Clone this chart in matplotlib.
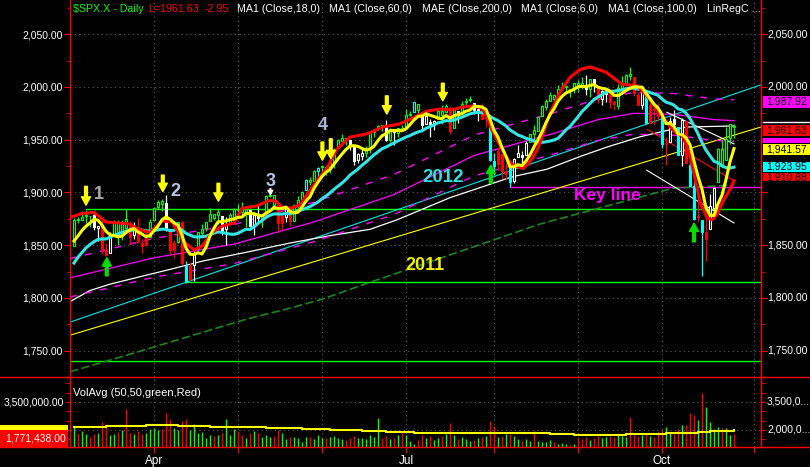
import numpy as np
import pandas as pd
import matplotlib
matplotlib.use('Agg')
import matplotlib.pyplot as plt
from matplotlib import font_manager
from matplotlib.patches import Rectangle
from matplotlib.lines import Line2D
import matplotlib.transforms as mtransforms

# ---------------- data ($SPX.X daily, 4 Mar 2014 - 27 Oct 2014) ----------------
prior_closes = [1773.43, 1797.02, 1799.84, 1819.75, 1819.26, 1829.83, 1838.63, 1840.76, 1828.75,
                1839.78, 1836.25, 1847.61, 1845.12, 1845.16, 1854.29, 1859.45, 1845.73]

opens = [1849.2,1874.1,1874.2,1878.5,1877.9,1878.3,1866.2,1869.1,1845.1,1842.8,
 1858.9,1872.3,1860.1,1874.5,1867.7,1859.5,1867.1,1852.1,1850.1,1858.0,
 1873.9,1886.6,1891.4,1890.3,1863.9,1845.5,1852.6,1872.3,1830.7,1818.2,
 1831.5,1846.0,1861.7,1865.8,1872.6,1879.3,1881.0,1877.7,1865.0,1870.8,
 1877.1,1884.4,1885.3,1879.5,1883.7,1868.5,1877.4,1875.3,1880.0,1896.8,
 1897.1,1888.2,1871.2,1876.7,1884.9,1873.3,1888.2,1893.3,1902.0,1911.8,
 1910.6,1920.3,1923.9,1923.1,1923.1,1928.5,1942.4,1948.9,1950.3,1949.4,
 1943.4,1930.8,1934.8,1937.2,1942.7,1957.5,1960.5,1962.9,1961.9,1949.3,
 1959.9,1956.6,1960.8,1962.3,1973.1,1975.9,1984.2,1976.4,1965.1,1966.7,
 1965.8,1969.9,1977.4,1976.4,1979.8,1961.5,1976.9,1975.7,1985.3,1988.1,
 1984.6,1978.3,1980.0,1973.2,1965.1,1929.8,1926.6,1936.3,1917.3,1923.0,
 1910.4,1933.4,1935.7,1935.6,1947.4,1958.9,1958.4,1972.7,1980.5,1986.8,
 1992.6,1991.7,1998.6,2000.5,1997.4,1998.5,2004.1,2003.6,2001.7,1998.0,
 2007.2,2000.7,1988.4,1992.9,1996.7,1986.0,1981.9,1999.3,2003.1,2012.7,
 2009.1,1992.8,1983.3,1997.3,1966.2,1978.9,1978.2,1971.4,1945.8,1948.1,
 1970.0,1962.4,1935.6,1967.7,1925.6,1905.6,1877.1,1874.2,1855.9,1864.9,
 1885.3,1909.4,1941.3,1931.0,1951.6,1962.7]

highs = [1876.2,1876.5,1881.9,1883.6,1877.9,1882.4,1868.4,1874.4,1852.4,1862.3,
 1873.8,1874.1,1873.5,1883.9,1873.3,1871.9,1875.9,1855.6,1866.6,1875.2,
 1885.8,1893.2,1893.8,1897.3,1864.0,1854.9,1872.4,1872.5,1835.1,1834.2,
 1844.0,1862.6,1869.6,1871.9,1884.9,1879.8,1884.1,1877.7,1877.0,1880.0,
 1885.2,1888.6,1891.3,1885.5,1883.7,1878.8,1889.1,1878.6,1897.1,1902.2,
 1897.1,1888.2,1878.3,1886.0,1884.9,1888.8,1896.3,1901.3,1912.3,1914.5,
 1921.0,1924.0,1925.9,1925.1,1928.6,1941.7,1950.3,1955.6,1950.9,1949.4,
 1943.4,1937.3,1941.2,1943.7,1957.7,1959.9,1963.9,1963.7,1968.2,1960.8,
 1959.9,1961.5,1964.2,1978.6,1976.7,1985.6,1984.2,1976.4,1974.2,1969.8,
 1968.7,1979.9,1982.5,1983.9,1981.8,1979.9,1976.9,1986.2,1989.2,1991.4,
 1984.6,1981.5,1984.9,1978.9,1965.1,1937.4,1942.9,1936.3,1927.9,1928.9,
 1932.4,1944.9,1939.7,1948.4,1955.2,1964.0,1971.9,1982.6,1988.6,1994.8,
 1993.5,2001.9,2005.0,2002.1,1998.5,2003.4,2006.1,2009.3,2011.2,2007.8,
 2007.2,2001.0,1996.7,1997.7,1996.7,1987.2,2002.3,2010.7,2012.3,2019.3,
 2009.1,1995.4,1999.8,1997.3,1986.4,1981.3,1985.2,1971.4,1952.3,1971.2,
 1977.8,1962.4,1970.4,1967.7,1936.0,1912.1,1898.7,1874.2,1876.0,1898.2,
 1905.0,1942.5,1949.3,1961.9,1965.3,1964.6]

lows = [1849.2,1871.1,1874.2,1870.6,1867.0,1863.9,1854.4,1841.9,1839.6,1842.8,
 1858.9,1850.4,1854.6,1863.5,1849.7,1855.9,1852.4,1842.1,1850.1,1858.0,
 1873.9,1883.8,1882.6,1863.3,1841.5,1837.5,1852.4,1830.9,1814.4,1815.8,
 1816.3,1846.0,1856.7,1863.2,1872.6,1873.9,1870.3,1859.7,1850.6,1870.8,
 1872.7,1878.0,1878.5,1866.8,1867.7,1859.8,1870.1,1867.0,1880.0,1896.1,
 1885.8,1862.4,1864.8,1872.4,1868.1,1873.3,1885.4,1893.3,1902.0,1907.3,
 1909.8,1914.5,1915.9,1916.7,1918.6,1922.9,1942.4,1947.2,1944.6,1940.1,
 1925.8,1927.7,1930.9,1933.6,1937.4,1952.3,1959.2,1958.2,1948.3,1947.5,
 1944.7,1952.2,1958.2,1962.3,1972.6,1975.9,1974.9,1959.5,1965.1,1952.9,
 1959.6,1969.9,1965.3,1975.7,1955.6,1960.8,1965.8,1975.7,1982.4,1985.8,
 1974.4,1967.3,1969.9,1962.4,1930.0,1916.4,1921.2,1913.8,1911.5,1904.8,
 1909.0,1933.4,1928.3,1935.6,1947.4,1941.5,1958.4,1972.7,1977.7,1986.8,
 1984.8,1991.7,1998.6,1996.2,1990.5,1994.6,1994.9,1998.1,1992.4,1990.1,
 1995.6,1984.6,1982.9,1985.9,1980.3,1978.5,1979.1,1993.3,2003.1,2006.6,
 1991.0,1982.6,1978.6,1965.1,1966.2,1964.0,1968.0,1941.7,1926.0,1948.1,
 1958.4,1935.1,1925.3,1927.6,1906.1,1874.1,1871.8,1820.7,1835.0,1864.9,
 1882.3,1909.4,1926.8,1931.0,1946.3,1951.4]

closes = [1873.91,1873.81,1877.03,1878.04,1877.17,1867.63,1868.20,1846.34,1841.13,1858.83,
 1872.25,1860.77,1872.01,1866.52,1857.44,1865.62,1852.56,1849.04,1857.62,1872.34,
 1885.52,1890.90,1888.77,1865.09,1845.04,1851.96,1872.18,1833.08,1815.69,1830.61,
 1842.98,1862.31,1864.85,1871.89,1879.55,1875.39,1878.61,1863.40,1869.43,1878.33,
 1883.95,1883.68,1881.14,1884.66,1867.72,1878.21,1875.63,1878.48,1896.65,1897.45,
 1888.53,1870.85,1877.86,1885.08,1872.83,1888.03,1892.49,1900.53,1911.91,1909.78,
 1920.03,1923.57,1924.97,1924.24,1927.88,1940.46,1949.44,1951.27,1950.79,1943.89,
 1930.11,1936.16,1937.78,1941.99,1956.98,1959.48,1962.87,1962.61,1949.98,1959.53,
 1957.22,1960.96,1960.23,1973.32,1974.62,1985.44,1977.65,1963.71,1972.83,1964.68,
 1967.57,1977.10,1973.28,1981.57,1958.12,1978.22,1973.63,1983.53,1987.01,1987.98,
 1978.34,1978.91,1969.95,1970.07,1930.67,1925.15,1938.99,1920.21,1920.24,1909.57,
 1931.59,1936.92,1933.75,1946.72,1955.18,1955.06,1971.74,1981.60,1986.51,1992.37,
 1988.40,1997.92,2000.02,2000.12,1996.74,2003.37,2002.28,2000.72,1997.65,2007.71,
 2001.54,1988.44,1995.69,1997.45,1985.54,1984.13,1998.98,2001.57,2011.36,2010.40,
 1994.29,1982.77,1998.30,1965.99,1982.85,1977.80,1972.29,1946.16,1946.17,1967.90,
 1964.82,1935.10,1968.89,1928.21,1906.13,1874.74,1877.70,1862.49,1862.76,1886.76,
 1904.01,1941.28,1927.11,1950.82,1964.58,1961.63]

# volume in millions
volume_m = [2.15,1.85,1.95,1.80,1.60,1.80,1.85,2.45,2.20,1.75,1.80,1.90,2.00,3.10,1.85,1.80,1.95,1.80,1.85,2.05,
 2.10,2.00,2.05,2.90,2.60,2.10,2.00,2.50,2.60,2.00,2.30,1.85,1.90,1.55,1.75,1.70,1.75,1.85,2.60,1.75,2.05,
 1.95,1.75,1.55,1.85,1.95,1.85,1.60,1.75,1.65,1.70,2.00,1.85,1.50,1.65,1.60,1.55,1.35,1.65,1.60,1.50,1.75,
 1.55,1.55,1.60,1.70,1.55,1.50,1.45,1.55,1.70,1.55,1.55,1.50,1.75,1.65,2.65,1.55,1.70,1.50,1.55,1.75,1.85,
 1.75,1.40,1.25,1.45,1.75,1.55,1.70,1.45,1.55,1.70,1.80,2.35,1.75,1.50,1.60,1.50,1.40,1.45,1.55,1.65,1.70,2.50,
 2.20,1.65,1.70,1.80,1.80,1.70,1.50,1.40,1.50,1.40,1.95,1.40,1.35,1.35,1.45,1.35,1.25,1.30,1.25,1.20,1.25,
 1.55,1.50,1.60,1.45,1.55,1.70,1.55,1.60,1.70,1.60,1.75,1.70,1.60,2.70,1.75,1.70,1.75,1.85,1.70,1.65,1.90,
 2.00,2.15,1.85,1.80,2.05,2.25,2.25,2.90,2.80,2.55,4.00,3.25,2.45,2.05,2.15,2.10,2.10,1.75,1.77]

vol_avg_x = [0, 4, 8, 18, 26, 34, 48, 57, 64, 72, 78, 85, 100, 119, 125, 138, 148, 156, 159, 165]
vol_avg_m = [2.14, 2.18, 2.22, 2.27, 2.24, 2.17, 2.12, 2.05, 1.98, 1.92, 1.87, 1.83, 1.82, 1.80, 1.75,
             1.78, 1.83, 1.88, 1.94, 1.98]

month_ticks = [20, 41, 62, 83, 105, 126, 147, 170]
month_labels = ['Apr', '', '', 'Jul', '', '', 'Oct', '']

# red thick indicator line
red_x = [-1, 0, 2, 5, 8, 11, 14, 16, 19, 22, 24.5, 27.5, 30, 32, 34.5, 37, 40, 42, 45.5, 49, 50.5, 52, 54,
         56.5, 59, 61.5, 63.25, 65.75, 69, 73.25, 77.25, 81.5, 85.75, 88.25, 91.5, 94.75, 97.25, 99.75,
         102, 103.25, 104.75, 106.5, 108.25, 109.75, 112.25, 114, 115.75, 117.25, 119, 121.5, 124,
         126.5, 129, 133, 137, 140.75, 143.25, 145.25, 147.25, 149.75, 152.25, 154, 155.25, 156.5,
         158.25, 159.5, 160.75, 162.25, 164, 165]
red_v = [1876, 1877.5, 1880, 1881, 1872, 1871, 1870, 1865, 1862, 1873, 1872, 1853, 1845.5, 1849, 1862,
         1868, 1871, 1885, 1887, 1892.5, 1891.5, 1886, 1885, 1888, 1902, 1915, 1923, 1941, 1952.5,
         1955.5, 1962, 1965, 1972.5, 1977, 1979, 1978.5, 1981, 1982, 1980, 1971.5, 1957, 1944.5, 1932,
         1926, 1922.5, 1929, 1940, 1955, 1975, 1995, 2009, 2016.5, 2019, 2014, 2002.5, 2001, 1991.5,
         1981, 1971.5, 1958.7, 1952.7, 1935, 1913, 1891.5, 1876, 1874, 1879, 1891.5, 1903, 1911]

ma60_x = [-1, 20, 40, 60, 80, 100, 120, 131, 140, 150, 160, 165]
ma60_v = [1819, 1838, 1851, 1872, 1898, 1935, 1956, 1969, 1975, 1974, 1969, 1968]

ma100_x = [-1, 4, 9, 14, 19, 24, 32.25, 42.25, 54, 64, 74, 80.75, 94, 109.75, 118.25, 126.5, 133.25,
           141.5, 148.25, 153.25, 165]
ma100_v = [1796.5, 1807, 1813, 1817.7, 1822.4, 1827, 1835, 1842.6, 1852, 1859, 1865, 1874, 1895, 1915,
           1922, 1934, 1943, 1952.7, 1958.7, 1962, 1963]

ma200_x = [-1, 9, 24, 34, 43.25, 53.25, 62.25, 71.5, 116.5, 149.75, 165]
ma200_v = [1730, 1741, 1758, 1769.5, 1780, 1789.5, 1799, 1811.5, 1870, 1904, 1907]

trend_2011 = ([-1, 171.75], [1764.6, 1962.0])
trend_2012 = ([-1, 171.75], [1777.0, 2002.0])

linreg_mid = ([143.2, 165], [1960, 1911])
linreg_up = ([148.2, 165], [1976, 1946])
linreg_low = ([143.2, 165], [1921, 1871])

levels_green = [(1884, 3.0), (1815, 27.75), (1740, -1.0)]   # (price, start bar)
key_level = (1905, 109.0)

cyan_down = [28, 104, 105, 109, 143, 147, 151, 154, 155, 157]
cyan_up = [58, 61, 85]

yellow_arrows = [(3.0, 1905.7, 1887.9), (22.2, 1916.4, 1900.8), (36.1, 1908.6, 1891.6),
                 (62.1, 1947.7, 1930.5), (64.2, 1950.8, 1932.0), (78.2, 1991.5, 1974.3),
                 (92.2, 2003.5, 1986.8)]           # (bar, tail, tip)
green_arrows = [(8.2, 1820.9, 1838.1), (104.2, 1908.6, 1925.8), (155.0, 1853.1, 1870.9)]
white_arrows = [(49.1, 1903.6, 1898.0)]
wave_labels = [('1', 6.3, 1897.6, '#a9a9a9'), ('2', 25.25, 1901.3, '#b4c8e4'),
               ('3', 49.2, 1910.2, '#b4c8e4'), ('4', 62.2, 1963.3, '#a8b8d8')]

# right-hand value boxes: (text, shown centre price, colour, box height px)
right_boxes = [
    ('1,987.92', 1985.9, '#ff00ff', 12),
    ('', 1948.8, '#ff00ff', 5),
    ('1,961.63', 1959.0, '#ff0000', 11),
    ('1,941.57', 1940.7, '#ffff00', 11),
    ('1,923.95', 1924.3, '#00ffff', 10.5),
    ('1,910.88', 1914.6, '#ff0000', 8.5),
]

# ---------------- fonts ----------------
names = {f.name for f in font_manager.fontManager.ttflist}
REG = 'Liberation Sans' if 'Liberation Sans' in names else 'DejaVu Sans'
NARROW = 'Liberation Sans Narrow' if 'Liberation Sans Narrow' in names else REG
nsize = 8.5 if NARROW != REG else 7.5
plt.rcParams['font.family'] = [REG, 'DejaVu Sans']

# ---------------- figure ----------------
W, H = 810, 467
PX = 1.064  # pixels per index point
fig = plt.figure(figsize=(W / 100, H / 100), dpi=100, facecolor='black')
ax = fig.add_axes([70 / W, (H - 377) / H, 691 / W, 377 / H], facecolor='black')
axv = fig.add_axes([70 / W, (H - 447) / H, 691 / W, 70 / H], facecolor='black')

XL = (-1, 171.75)
for a in (ax, axv):
    a.set_xlim(*XL)
    for s in ('top', 'bottom'):
        a.spines[s].set_visible(False)
    for s in ('left', 'right'):
        a.spines[s].set_color('#ff0000')
        a.spines[s].set_linewidth(1.0)
    a.set_xticks(month_ticks)
    a.xaxis.grid(True, color='#5c5c5c', linestyle=(0, (1, 3)), lw=0.8)

ax.set_ylim(1728.1, 2082.4)
ax.set_yticks(range(1750, 2051, 50))
ax.set_yticks(range(1725, 2076, 25), minor=True)
ax.yaxis.grid(True, color='#5c5c5c', linestyle=(0, (1, 3)), lw=0.8)
ax.set_yticklabels([f'{v:,.2f}' for v in range(1750, 2051, 50)])
ax.tick_params(axis='x', bottom=False, labelbottom=False)
ax.tick_params(axis='y', which='major', left=True, right=True, direction='out', length=4,
               color='#ff0000', labelcolor='white', labelsize=nsize, pad=1.5)
ax.tick_params(axis='y', which='minor', left=True, right=True, direction='out', length=2,
               color='#ff0000')
for lab in ax.get_yticklabels():
    lab.set_fontfamily(NARROW)

n = len(closes)
idx = np.arange(n)
c = np.array(closes); o = np.array(opens); hi = np.array(highs); lo = np.array(lows)
s_all = pd.Series(prior_closes + closes)
ma6 = s_all.rolling(6).mean().values[len(prior_closes):]
ma18 = s_all.rolling(18).mean().values[len(prior_closes):]

# horizontal levels and trend lines
for lv, st in levels_green:
    ax.plot([st, XL[1]], [lv, lv], color='#00ff00', lw=1.0, zorder=2)
ax.plot([key_level[1], XL[1]], [key_level[0]] * 2, color='#ff00ff', lw=1.0, zorder=2)
ax.plot(*trend_2011, color='#ffff00', lw=0.8, zorder=2)
ax.plot(*trend_2012, color='#00e5e5', lw=0.8, zorder=2)

# long moving averages
ax.plot(ma200_x, ma200_v, color='#1a861a', lw=1.2, linestyle=(0, (5, 2)), zorder=2)
ax.plot(ma100_x, ma100_v, color='#ffffff', lw=0.9, zorder=2)
ma60 = np.array(ma60_v)
ax.plot(ma60_x, ma60, color='#ff00ff', lw=0.9, zorder=2)
ax.plot(ma60_x, ma60 * 1.01, color='#ff00ff', lw=1.0, linestyle=(0, (5, 6)), zorder=2)
ax.plot(ma60_x, ma60 * 0.99, color='#ff00ff', lw=1.0, linestyle=(0, (5, 6)), zorder=2)

# regression channel
ax.plot(*linreg_mid, color='#ff0000', lw=0.8, zorder=2)
ax.plot(*linreg_up, color='#ffffff', lw=0.8, zorder=2)
ax.plot(*linreg_low, color='#ffffff', lw=0.8, zorder=2)

# candle colours
edge, face = [], []
for k in range(n):
    if k in cyan_down:
        ec, fc = '#00ffff', '#00ffff'
    elif k in cyan_up:
        ec, fc = '#00ffff', 'black'
    elif c[k] > ma6[k] and c[k] > ma18[k]:
        ec, fc = '#00ff00', 'black'
    elif c[k] < ma6[k] and c[k] < ma18[k]:
        ec, fc = '#ff0000', '#ff0000'
    else:
        ec = '#ffffff'
        fc = 'black' if c[k] >= o[k] else '#ffffff'
    edge.append(ec); face.append(fc)

ax.vlines(idx, lo, hi, colors=edge, lw=0.9, zorder=3)
body_lo = np.minimum(o, c)
body_h = np.maximum(np.abs(c - o), 0.9)
ax.bar(idx, body_h, bottom=body_lo, width=0.62, color=face, edgecolor=edge, linewidth=0.8, zorder=4)

# fast averages
ax.plot(idx, ma18, color='#33e6e6', lw=2.2, zorder=5)
ax.plot(red_x, red_v, color='#ff0000', lw=2.2, zorder=6)
ax.plot(idx, ma6, color='#ffff00', lw=2.2, zorder=7)

# annotations
for xb, tail, tip in yellow_arrows:
    ax.annotate('', xy=(xb, tip), xytext=(xb, tail),
                arrowprops=dict(facecolor='#ffff00', edgecolor='#ffff00', width=2.0,
                                headwidth=6.5, headlength=6, shrink=0), zorder=8)
for xb, tail, tip in green_arrows:
    ax.annotate('', xy=(xb, tip), xytext=(xb, tail),
                arrowprops=dict(facecolor='#00dd00', edgecolor='#00dd00', width=2.0,
                                headwidth=6.5, headlength=6, shrink=0), zorder=8)
for xb, tail, tip in white_arrows:
    ax.annotate('', xy=(xb, tip), xytext=(xb, tail),
                arrowprops=dict(facecolor='white', edgecolor='white', width=0.6,
                                headwidth=3.5, headlength=3, shrink=0), zorder=8)
for t, xb, yv, col in wave_labels:
    ax.text(xb, yv, t, color=col, fontsize=13, fontweight='bold', ha='center', va='center', zorder=8)
ax.text(92.25, 1914.4, '2012', color='#33e0e0', fontsize=13.5, fontweight='bold',
        ha='center', va='center', zorder=8)
ax.text(87.75, 1830.5, '2011', color='#f0f000', fontsize=13, fontweight='bold',
        ha='center', va='center', zorder=8)
ax.text(133.4, 1896.8, 'Key line', color='#ff00ff', fontsize=12.5, fontweight='bold',
        ha='center', va='center', zorder=8)

# right-hand price labels
bt_ax = mtransforms.blended_transform_factory(ax.transAxes, ax.transData)
for v in (2050, 2000, 1850, 1800, 1750):
    ax.text(1 + 6 / 691, v, f'{v:,.2f}', transform=bt_ax, color='white', fontsize=nsize,
            fontfamily=NARROW, va='center', ha='left', clip_on=False)

bt = mtransforms.blended_transform_factory(fig.transFigure, ax.transData)
for txt, yc, col, hpx in right_boxes:
    hh = hpx / PX
    fig.add_artist(Rectangle((763 / W, yc - hh / 2), 47 / W, hh, transform=bt,
                             facecolor=col, edgecolor='none', zorder=11))
    if txt:
        fig.text(766 / W, yc, txt, transform=bt, color='black', fontsize=nsize,
                 fontfamily=NARROW, va='center', ha='left', zorder=12)
fig.add_artist(Line2D([763 / W, 1.0], [1967.1, 1967.1], transform=bt, color='white', lw=1, zorder=12))

# ---------------- volume panel ----------------
VB, VT = 1.0893e6, 4.839e6
vol = np.array(volume_m) * 1e6
prev_c = np.array([prior_closes[-1]] + closes[:-1])
vcol = np.where(c >= prev_c, '#00ff00', '#ff0000')
axv.set_ylim(VB, VT)
axv.vlines(idx, VB, vol, colors=vcol, lw=1.0, zorder=3)
axv.plot(vol_avg_x, np.array(vol_avg_m) * 1e6, color='#ffff00', lw=1.5, drawstyle='steps-post', zorder=4)
axv.set_yticks([2.0e6, 3.5e6])
axv.set_yticks([1.5e6, 2.5e6, 3.0e6, 4.0e6, 4.5e6], minor=True)
axv.yaxis.grid(True, color='#5c5c5c', linestyle=(0, (1, 3)), lw=0.8)
axv.set_yticklabels(['', '3,500,000.00'])
axv.tick_params(axis='y', which='both', left=True, right=True, direction='out', length=3,
                color='#ff0000', labelcolor='white', labelsize=nsize, pad=1.5)
for lab in axv.get_yticklabels():
    lab.set_fontfamily(NARROW)
axv.set_xticks(month_ticks)
axv.set_xticklabels(month_labels)
axv.tick_params(axis='x', bottom=True, direction='out', length=4, color='#ff0000',
                labelcolor='white', labelsize=8.5, pad=2)

btv = mtransforms.blended_transform_factory(axv.transAxes, axv.transData)
for v, t in ((3.5e6, '3,500,0...'), (2.0e6, '2,000,0...')):
    axv.text(1 + 6 / 691, v, t, transform=btv, color='white', fontsize=nsize,
             fontfamily=NARROW, va='center', ha='left', clip_on=False)

btfv = mtransforms.blended_transform_factory(fig.transFigure, axv.transData)
fig.add_artist(Rectangle((0, 2.0e6), 68 / W, 0.268e6, transform=btfv, facecolor='#ffff00',
                         edgecolor='none', zorder=11))
fig.add_artist(Rectangle((0, VB), 68 / W, 2.0e6 - VB, transform=btfv, facecolor='#ff0000',
                         edgecolor='none', zorder=11))
fig.text(66 / W, 1.545e6, '1,771,438.00', transform=btfv, color='white', fontsize=nsize,
         fontfamily=NARROW, ha='right', va='center', zorder=12)

fig.text(73 / W, 1 - 393 / H, 'VolAvg (50,50,green,Red)', color='white', fontsize=8, va='center')

# separators
for yp in (377, 447):
    fig.add_artist(Line2D([0, 1], [(H - yp) / H] * 2, color='#ff0000', lw=1.0, zorder=15))

# header
hdr = [(73, '$SPX.X - Daily', '#00ff00'), (148, 'L=1961.63', '#ff0000'), (205, '-2.95', '#ff0000'),
       (237, 'MA1 (Close,18,0)', 'white'), (329, 'MA1 (Close,60,0)', 'white'),
       (422, 'MAE (Close,200,0)', 'white'), (521, 'MA1 (Close,6,0)', 'white'),
       (608, 'MA1 (Close,100,0)', 'white'), (707, 'LinRegC ...', 'white')]
for xp, t, col in hdr:
    fig.text(xp / W, 1 - 9.5 / H, t, color=col, fontsize=7.7, va='center', ha='left')

fig.savefig('out.png', dpi=100, facecolor='black')
